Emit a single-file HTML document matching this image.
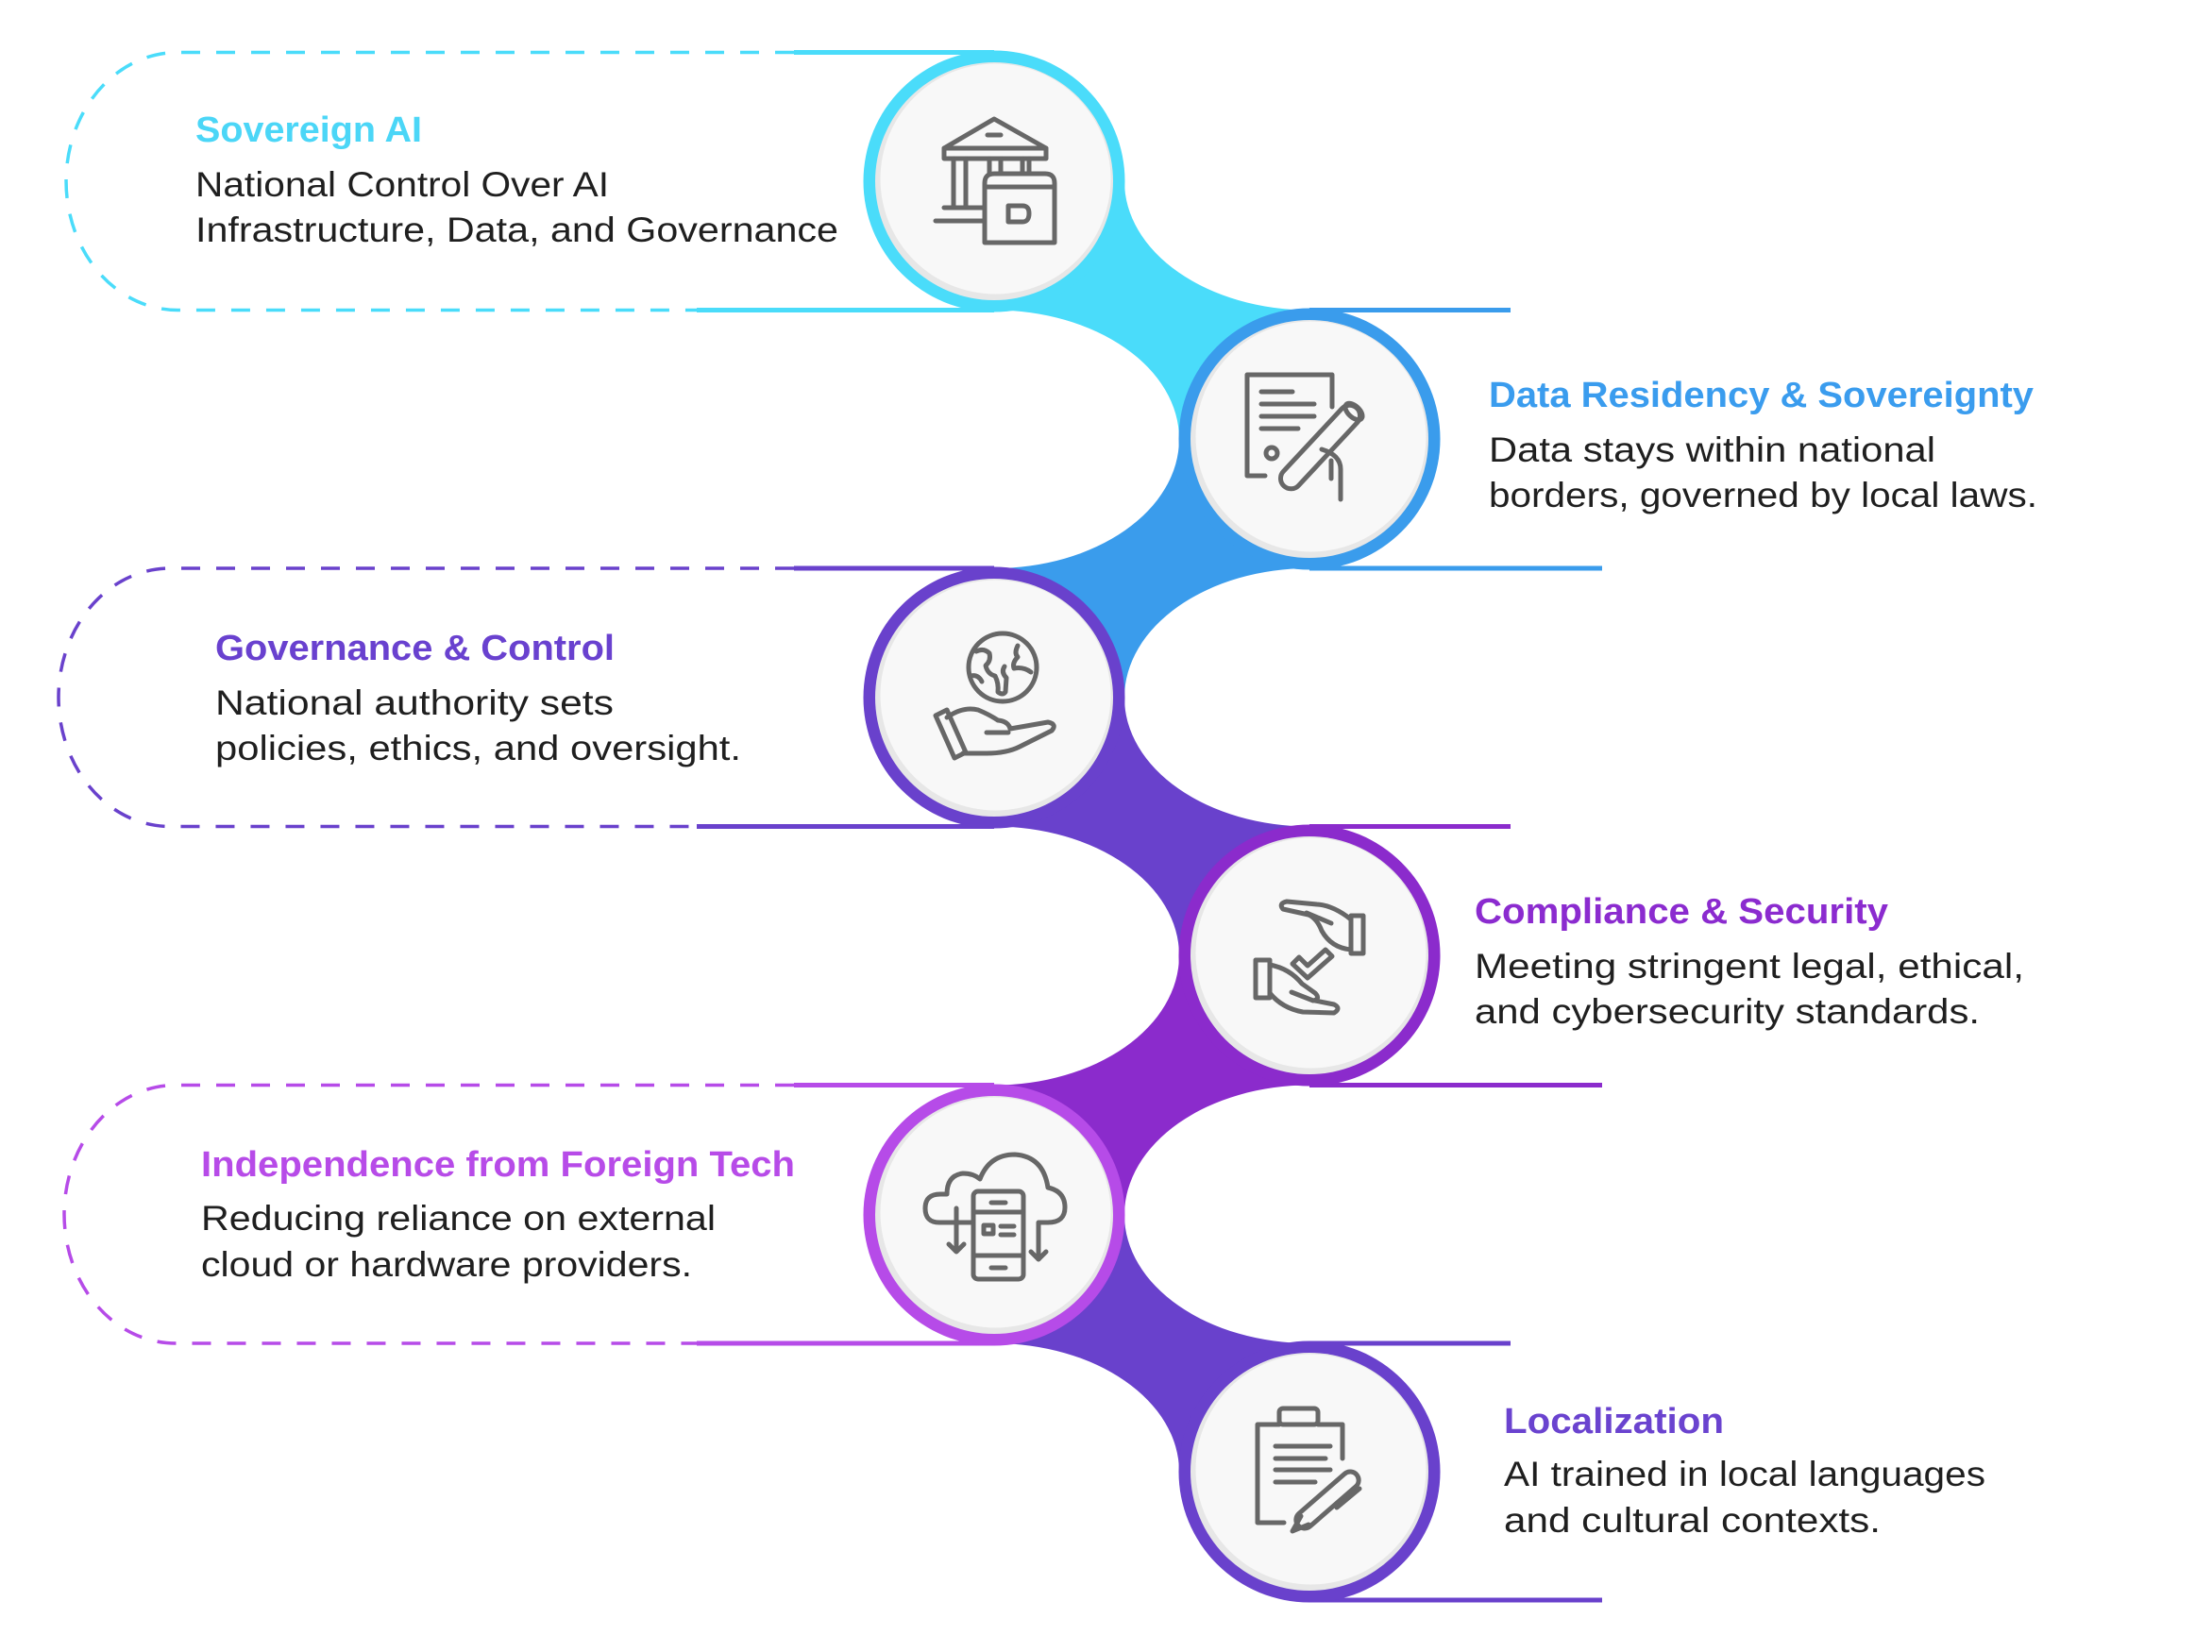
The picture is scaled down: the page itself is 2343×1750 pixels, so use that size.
<!DOCTYPE html>
<html>
<head>
<meta charset="utf-8">
<style>
  html,body{margin:0;padding:0;background:#ffffff;}
  svg{display:block;}
  .t{font-family:"Liberation Sans",sans-serif;font-weight:bold;font-size:38px;}
  .b{font-family:"Liberation Sans",sans-serif;font-size:37px;fill:#1f1f1f;}
  .ic{fill:none;stroke:#676767;stroke-width:5;stroke-linecap:round;stroke-linejoin:round;}
</style>
</head>
<body>
<svg width="2343" height="1750" viewBox="0 0 2343 1750" xmlns="http://www.w3.org/2000/svg">
  <rect x="0" y="0" width="2343" height="1750" fill="#ffffff"/>

  <!-- dashed boxes (left rows) -->
  <path d="M841,55.5 H188 A118,136.5 0 0 0 188,328.5 H738" fill="none" stroke="#4adcfa" stroke-width="3.5" stroke-dasharray="20 17"/>
  <path d="M841,602 H180 A118,136.75 0 0 0 180,875.5 H738" fill="none" stroke="#6941cc" stroke-width="3.5" stroke-dasharray="20 17"/>
  <path d="M841,1149.5 H186 A118,136.75 0 0 0 186,1423 H738" fill="none" stroke="#b64be8" stroke-width="3.5" stroke-dasharray="20 17"/>

  <!-- solid horizontal lines -->
  <g stroke-width="5" fill="none">
    <path d="M841,55.5 H1053 M738,328.5 H1053" stroke="#4adcfa"/>
    <path d="M1387,328.5 H1600 M1387,602 H1697" stroke="#3a9cec"/>
    <path d="M841,602 H1053 M738,875.5 H1053" stroke="#6941cc"/>
    <path d="M1387,875.5 H1600 M1387,1149.5 H1697" stroke="#8b2bcc"/>
    <path d="M841,1149.5 H1053 M738,1423 H1053" stroke="#b64be8"/>
    <path d="M1387,1423 H1600 M1387,1695 H1697" stroke="#6941cc"/>
  </g>

  <!-- connectors -->
  <path d="M1053,192 H1191 A196,136.5 0 0 0 1387,328.5 V465 H1249 A196,136.5 0 0 0 1053,328.5 Z" fill="#4adcfa"/>
  <path d="M1387,465 H1249 A196,137 0 0 1 1053,602 V739 H1191 A196,137 0 0 1 1387,602 Z" fill="#3a9cec"/>
  <path d="M1053,739 H1191 A196,136.5 0 0 0 1387,875.5 V1012 H1249 A196,136.5 0 0 0 1053,875.5 Z" fill="#6941cc"/>
  <path d="M1387,1012 H1249 A196,137.5 0 0 1 1053,1149.5 V1287 H1191 A196,137.5 0 0 1 1387,1149.5 Z" fill="#8b2bcc"/>
  <path d="M1053,1287 H1191 A196,136 0 0 0 1387,1423 V1559 H1249 A196,136 0 0 0 1053,1423 Z" fill="#6941cc"/>

  <!-- circles -->
  <g>
    <circle cx="1053" cy="192" r="138.5" fill="#4adcfa"/>
    <circle cx="1053" cy="192" r="126" fill="#e7e7e7"/>
    <circle cx="1054.5" cy="189.5" r="122" fill="#f8f8f8"/>

    <circle cx="1387" cy="465" r="138.5" fill="#3a9cec"/>
    <circle cx="1387" cy="465" r="126" fill="#e7e7e7"/>
    <circle cx="1388.5" cy="462.5" r="122" fill="#f8f8f8"/>

    <circle cx="1053" cy="739" r="138.5" fill="#6941cc"/>
    <circle cx="1053" cy="739" r="126" fill="#e7e7e7"/>
    <circle cx="1054.5" cy="736.5" r="122" fill="#f8f8f8"/>

    <circle cx="1387" cy="1012" r="138.5" fill="#8b2bcc"/>
    <circle cx="1387" cy="1012" r="126" fill="#e7e7e7"/>
    <circle cx="1388.5" cy="1009.5" r="122" fill="#f8f8f8"/>

    <circle cx="1053" cy="1287" r="138.5" fill="#b64be8"/>
    <circle cx="1053" cy="1287" r="126" fill="#e7e7e7"/>
    <circle cx="1054.5" cy="1284.5" r="122" fill="#f8f8f8"/>

    <circle cx="1387" cy="1559" r="138.5" fill="#6941cc"/>
    <circle cx="1387" cy="1559" r="126" fill="#e7e7e7"/>
    <circle cx="1388.5" cy="1556.5" r="122" fill="#f8f8f8"/>
  </g>

  <!-- icon 1: bank + folder -->
  <g class="ic">
    <path d="M1000,157 L1053,126 L1108,157 Z"/>
    <rect x="1000" y="157" width="108" height="11"/>
    <path d="M1046,143 H1060"/>
    <path d="M1010,168 V220 M1023,168 V220 M1048,168 V184 M1060,168 V184 M1083,168 V184 M1090,168 V184"/>
    <path d="M1000,220 H1042 M991,234 H1042"/>
    <path d="M1043,257 V194 Q1043,184 1053,184 H1107 Q1117,184 1117,194 V257 Z"/>
    <path d="M1043,198 H1117"/>
    <path d="M1068,218 H1083 Q1090,218 1090,226 Q1090,235 1083,235 H1068 Z"/>
  </g>

  <!-- icon 2: document + diploma -->
  <g class="ic">
    <path d="M1411,431 V397 H1321 V504 H1340"/>
    <path d="M1336,415 H1369 M1336,428 H1392 M1336,441 H1392 M1336,454 H1375"/>
    <circle cx="1347" cy="480" r="6"/>
    <rect x="1342" y="462.5" width="113" height="22" rx="11" transform="rotate(-47 1398.5 473.5)"/>
    <ellipse cx="1434" cy="436" rx="6" ry="11" transform="rotate(-47 1434 436)"/>
    <path d="M1400,476 Q1420,482 1420,497 V529 M1410,488 V507"/>
  </g>

  <!-- icon 3: globe in hand -->
  <g class="ic">
    <circle cx="1062" cy="707" r="36"/>
    <path d="M1034,690 Q1042,686 1048,692 Q1050,700 1044,705 Q1046,714 1054,716 Q1058,724 1057,733 Q1062,737 1065,733 L1066,718 Q1060,712 1064,706"/>
    <path d="M1078,684 Q1074,692 1078,696 Q1072,702 1074,708 Q1084,706 1092,712"/>
    <path d="M1028,716 Q1036,714 1040,722"/>
    <path d="M991,758 L1003,752 L1023,797 L1011,803 Z"/>
    <path d="M1003,760 Q1020,748 1036,752 Q1048,757 1057,763 Q1068,764 1070,772 L1110,765 Q1120,767 1114,774 L1080,791 Q1066,798 1045,798 H1020"/>
    <path d="M1045,776 H1068"/>
  </g>

  <!-- icon 4: hands + check -->
  <g class="ic">
    <rect x="1431" y="970" width="13" height="40"/>
    <path d="M1431,974 Q1412,959 1395,958 L1363,955 Q1354,957 1359,963 L1386,969 Q1395,973 1400,986 Q1410,1004 1431,1006"/>
    <path d="M1384,967 L1410,978"/>
    <rect x="1330" y="1017" width="15" height="40"/>
    <path d="M1345,1022 Q1366,1026 1379,1042 L1393,1052 Q1399,1058 1391,1060 L1368,1051"/>
    <path d="M1345,1052 Q1358,1068 1380,1072 L1413,1073 Q1421,1068 1413,1064 L1393,1060"/>
    <path d="M1369,1021 L1376,1014 L1385,1023 L1404,1006 L1411,1013 L1385,1036 Z"/>
  </g>

  <!-- icon 5: cloud + phone -->
  <g class="ic">
    <path d="M1029,1295 H995 Q980,1295 980,1280 Q980,1265 996,1265 H1003 Q1003,1245 1020,1243 Q1031,1243 1038,1249 Q1048,1223 1075,1223 Q1105,1225 1110,1258 Q1128,1262 1128,1279 Q1128,1295 1110,1295 H1100 V1334"/>
    <path d="M1092,1326 L1100,1334 L1108,1326"/>
    <path d="M1013,1280 V1326 M1005,1318 L1013,1326 L1021,1318"/>
    <rect x="1031" y="1262" width="53" height="93" rx="5"/>
    <path d="M1050,1274 H1065 M1031,1284 H1084 M1031,1330 H1084 M1050,1343 H1065"/>
    <rect x="1042" y="1298" width="10" height="9"/>
    <path d="M1060,1299 H1074 M1060,1308 H1074"/>
  </g>

  <!-- icon 6: clipboard + pen -->
  <g class="ic">
    <path d="M1355,1509 H1332 V1613 H1360"/>
    <path d="M1396,1509 H1422 V1545"/>
    <rect x="1355" y="1492" width="41" height="17" rx="4"/>
    <path d="M1351,1532 H1409 M1351,1545 H1404 M1351,1557 H1409 M1351,1570 H1393"/>
    <rect x="1365" y="1580" width="82" height="18" rx="9" transform="rotate(-41 1406 1589)"/>
    <path d="M1378,1606 L1369,1622 L1386,1615"/>
    <path d="M1416,1597 L1440,1577"/>
  </g>

  <!-- texts -->
  <text class="t" x="207" y="150" fill="#4bd6f7" textLength="240" lengthAdjust="spacingAndGlyphs">Sovereign AI</text>
  <text class="b" x="207" y="208" textLength="438" lengthAdjust="spacingAndGlyphs">National Control Over AI</text>
  <text class="b" x="207" y="256" textLength="681" lengthAdjust="spacingAndGlyphs">Infrastructure, Data, and Governance</text>

  <text class="t" x="1577" y="431" fill="#3a9cee" textLength="577" lengthAdjust="spacingAndGlyphs">Data Residency &amp; Sovereignty</text>
  <text class="b" x="1577" y="489" textLength="473" lengthAdjust="spacingAndGlyphs">Data stays within national</text>
  <text class="b" x="1577" y="537" textLength="581" lengthAdjust="spacingAndGlyphs">borders, governed by local laws.</text>

  <text class="t" x="228" y="699" fill="#6941cf" textLength="423" lengthAdjust="spacingAndGlyphs">Governance &amp; Control</text>
  <text class="b" x="228" y="757" textLength="422" lengthAdjust="spacingAndGlyphs">National authority sets</text>
  <text class="b" x="228" y="805" textLength="557" lengthAdjust="spacingAndGlyphs">policies, ethics, and oversight.</text>

  <text class="t" x="1562" y="978" fill="#8b2bcf" textLength="438" lengthAdjust="spacingAndGlyphs">Compliance &amp; Security</text>
  <text class="b" x="1562" y="1036" textLength="582" lengthAdjust="spacingAndGlyphs">Meeting stringent legal, ethical,</text>
  <text class="b" x="1562" y="1084" textLength="535" lengthAdjust="spacingAndGlyphs">and cybersecurity standards.</text>

  <text class="t" x="213" y="1246" fill="#b74be8" textLength="629" lengthAdjust="spacingAndGlyphs">Independence from Foreign Tech</text>
  <text class="b" x="213" y="1303" textLength="545" lengthAdjust="spacingAndGlyphs">Reducing reliance on external</text>
  <text class="b" x="213" y="1352" textLength="520" lengthAdjust="spacingAndGlyphs">cloud or hardware providers.</text>

  <text class="t" x="1593" y="1518" fill="#6a43cf" textLength="233" lengthAdjust="spacingAndGlyphs">Localization</text>
  <text class="b" x="1593" y="1574" textLength="510" lengthAdjust="spacingAndGlyphs">AI trained in local languages</text>
  <text class="b" x="1593" y="1623" textLength="399" lengthAdjust="spacingAndGlyphs">and cultural contexts.</text>
</svg>
</body>
</html>
